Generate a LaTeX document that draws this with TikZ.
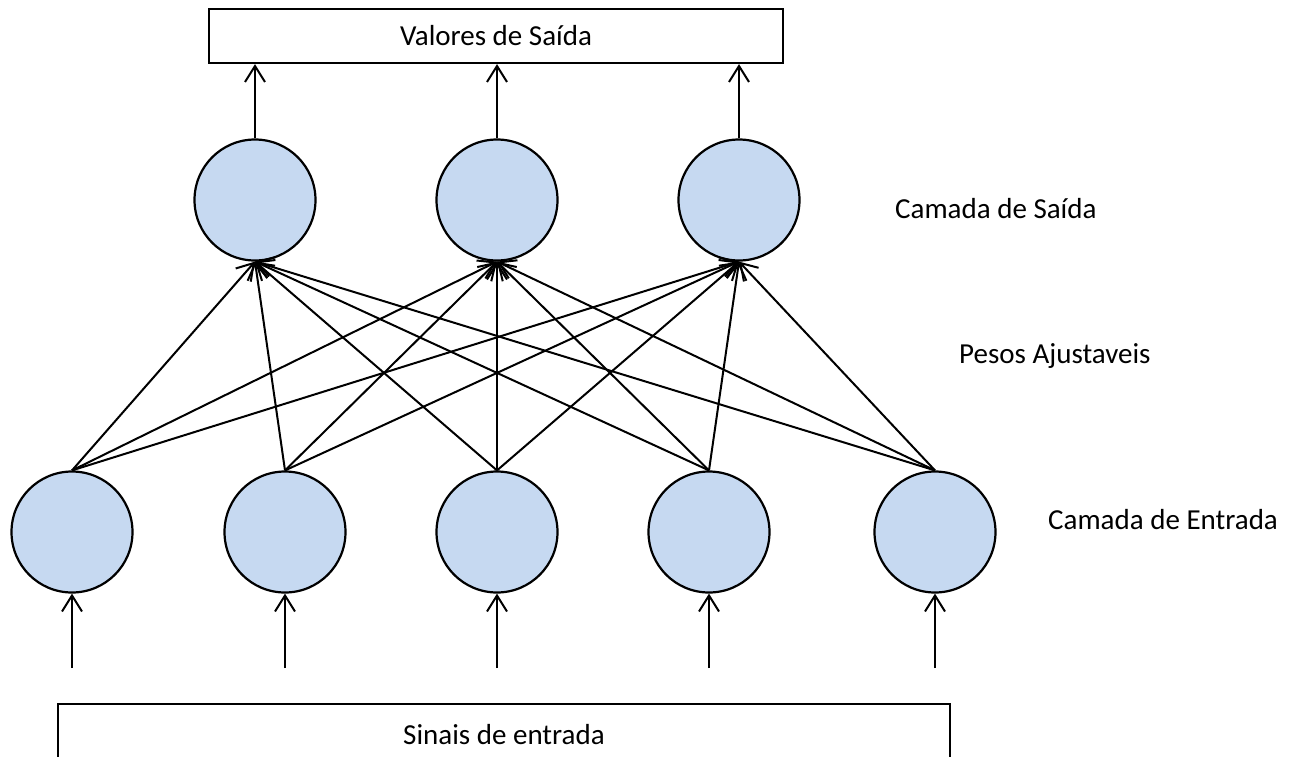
\documentclass[tikz,border=0pt]{standalone}
\usepackage{fontspec}
\setmainfont{Carlito}
\usetikzlibrary{arrows.meta}
\definecolor{nfill}{RGB}{198,217,241}
\begin{document}
\begin{tikzpicture}[x=1pt,y=-1pt,
  every node/.style={font=\fontsize{29}{35}\selectfont},
  neuron/.style={circle,draw,line width=2.2pt,fill=nfill,minimum size=121pt,inner sep=0},
  box/.style={rectangle,draw,line width=2.2pt,inner sep=0},
  conn/.style={line width=2pt,-{Straight Barb[length=16pt,width=20pt]}},
  lbl/.style={anchor=base west,inner sep=0}]
\clip (0,0) rectangle (1291,756);
\fill[white] (0,0) rectangle (1291,756);
% boxes
\node[box,minimum width=574pt,minimum height=54pt] (out) at (496,36) {Valores de Saída};
\node[box,minimum width=892pt,minimum height=62pt] (in) at (504,735) {Sinais de entrada};
% output neurons
\node[neuron] (o1) at (255,200) {};
\node[neuron] (o2) at (497,200) {};
\node[neuron] (o3) at (739,200) {};
% input neurons
\node[neuron] (i1) at (72,532) {};
\node[neuron] (i2) at (285,532) {};
\node[neuron] (i3) at (497,532) {};
\node[neuron] (i4) at (709,532) {};
\node[neuron] (i5) at (935,532) {};
% free ends of input arrows
\coordinate (b1) at (72,668);
\coordinate (b2) at (285,668);
\coordinate (b3) at (497,668);
\coordinate (b4) at (709,668);
\coordinate (b5) at (935,668);
% weights
\foreach \i in {1,...,5}{
  \foreach \o in {1,2,3}{
    \draw[conn] (i\i.north) -- (o\o.south);
  }
  \draw[conn] (b\i) -- (i\i.south);
}
% outputs
\foreach \o in {1,2,3}{
  \draw[conn] (o\o.north) -- (o\o.north |- out.south);
}
% labels
\node[lbl] (ls) at (895,218) {Camada de Saída};
\node[lbl] (lp) at (959,363) {Pesos Ajustaveis};
\node[lbl] (le) at (1048,529) {Camada de Entrada};
\end{tikzpicture}
\end{document}
